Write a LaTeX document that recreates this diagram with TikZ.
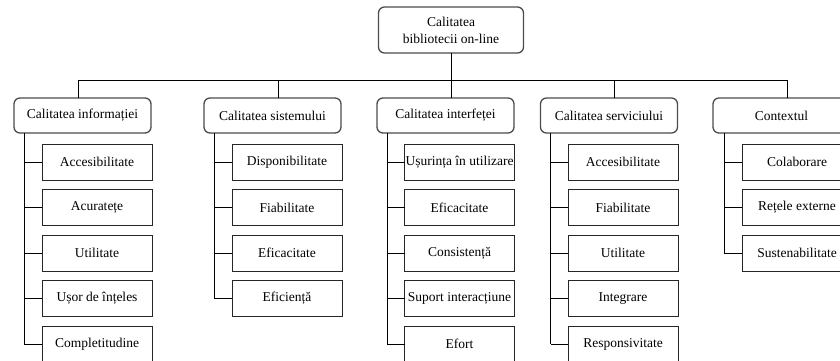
\documentclass[tikz,border=0pt]{standalone}
\usepackage{fontspec}
\setmainfont{Liberation Serif}
\begin{document}
\begin{tikzpicture}[x=1pt,y=-1pt,
  font=\fontsize{13.5}{17}\selectfont,
  topbox/.style={draw=black!70, line width=1.3pt, rounded corners=6pt, minimum width=137pt, minimum height=35pt, inner sep=0pt, outer sep=0pt},
  leaf/.style={draw=black!85, line width=0.9pt, minimum width=110pt, minimum height=36pt, inner sep=0pt, outer sep=0pt},
  conn/.style={line width=0.9pt, draw=black}]
\useasboundingbox (0,0) rectangle (840,361);
% root
\node[topbox, minimum width=145pt, minimum height=46pt, align=center] (root) at (451,30) {Calitatea\\bibliotecii on-line};
% level 1
\node[topbox] (b1) at (82.5,115.5) {Calitatea informației};
\node[topbox] (b2) at (272.5,115.5) {Calitatea sistemului};
\node[topbox] (b3) at (445.5,115.5) {Calitatea interfeței};
\node[topbox] (b4) at (609,115.5) {Calitatea serviciului};
\node[topbox] (b5) at (781.5,115.5) {Contextul};
% bus
\coordinate (j1) at (78,80);
\coordinate (j2) at (278,80);
\coordinate (j3) at (451,80);
\coordinate (j4) at (614,80);
\coordinate (j5) at (787,80);
\draw[conn] (root.south) -- (root.south |- b3.north);
\draw[conn] (j1) -- (j5);
\draw[conn] (j1) -- (j1 |- b1.north);
\draw[conn] (j2) -- (j2 |- b2.north);
\draw[conn] (j4) -- (j4 |- b4.north);
\draw[conn] (j5) -- (j5 |- b5.north);
% spines
\coordinate (s1) at ([xshift=10pt]b1.south west);
\coordinate (s2) at ([xshift=10pt]b2.south west);
\coordinate (s3) at ([xshift=10pt]b3.south west);
\coordinate (s4) at ([xshift=10pt]b4.south west);
\coordinate (s5) at ([xshift=11pt]b5.south west);
% column 1
\foreach \t [count=\k] in {Accesibilitate, Acuratețe, Utilitate, Ușor de înțeles, Completitudine} {
  \node[leaf] (c1-\k) at (97,{162+45.5*(\k-1)}) {\t};
  \draw[conn] (c1-\k.west) -- (c1-\k.west -| s1);
}
\draw[conn] (s1) -- (s1 |- c1-5.west);
% column 2
\foreach \t [count=\k] in {Disponibilitate, Fiabilitate, Eficacitate, Eficiență} {
  \node[leaf] (c2-\k) at (287,{162+45.5*(\k-1)}) {\t};
  \draw[conn] (c2-\k.west) -- (c2-\k.west -| s2);
}
\draw[conn] (s2) -- (s2 |- c2-4.west);
% column 3
\foreach \t [count=\k] in {Ușurința în utilizare, Eficacitate, Consistență, Suport interacțiune, Efort} {
  \node[leaf] (c3-\k) at (459.5,{162+45.5*(\k-1)}) {\t};
  \draw[conn] (c3-\k.west) -- (c3-\k.west -| s3);
}
\draw[conn] (s3) -- (s3 |- c3-5.west);
% column 4
\foreach \t [count=\k] in {Accesibilitate, Fiabilitate, Utilitate, Integrare, Responsivitate} {
  \node[leaf] (c4-\k) at (623,{162+45.5*(\k-1)}) {\t};
  \draw[conn] (c4-\k.west) -- (c4-\k.west -| s4);
}
\draw[conn] (s4) -- (s4 |- c4-5.west);
% column 5
\foreach \t [count=\k] in {Colaborare, Rețele externe, Sustenabilitate} {
  \node[leaf] (c5-\k) at (797,{162+45.5*(\k-1)}) {\t};
  \draw[conn] (c5-\k.west) -- (c5-\k.west -| s5);
}
\draw[conn] (s5) -- (s5 |- c5-3.west);
\end{tikzpicture}
\end{document}
